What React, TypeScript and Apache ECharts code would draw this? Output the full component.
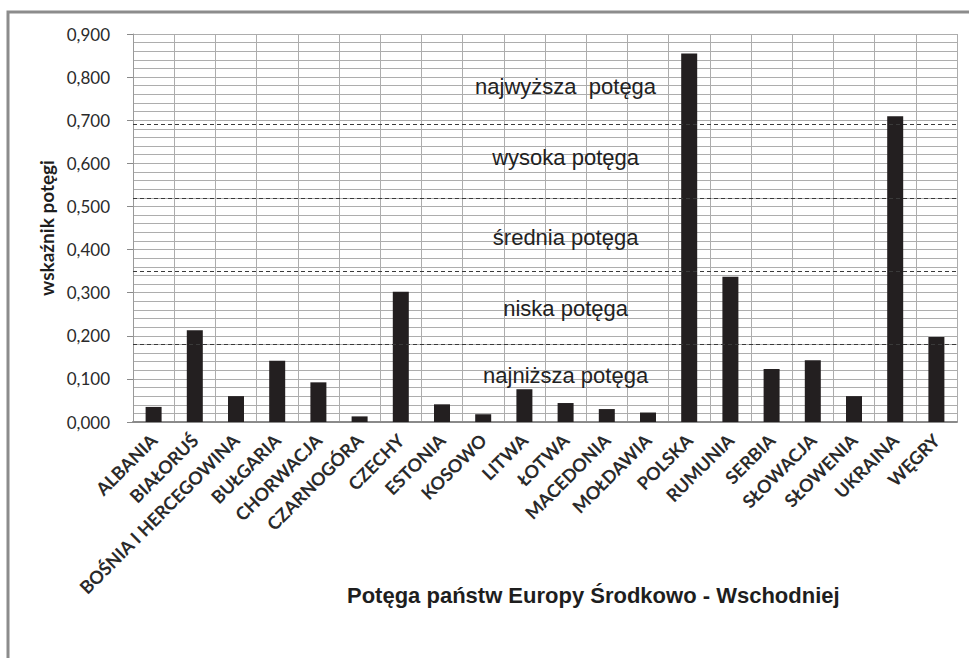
import React, { useEffect, useRef } from "react";
import * as echarts from "echarts";

const categories = [
  "ALBANIA", "BIAŁORUŚ", "BOŚNIA I HERCEGOWINA", "BUŁGARIA", "CHORWACJA",
  "CZARNOGÓRA", "CZECHY", "ESTONIA", "KOSOWO", "LITWA", "ŁOTWA",
  "MACEDONIA", "MOŁDAWIA", "POLSKA", "RUMUNIA", "SERBIA", "SŁOWACJA",
  "SŁOWENIA", "UKRAINA", "WĘGRY",
];
const values = [
  0.035, 0.213, 0.060, 0.142, 0.092, 0.013, 0.302, 0.041, 0.018, 0.076,
  0.044, 0.030, 0.022, 0.855, 0.337, 0.123, 0.143, 0.060, 0.709, 0.197,
];
const thresholds = [0.177, 0.351, 0.524, 0.690];
const zoneNames = ["najniższa potęga", "niska potęga", "średnia potęga", "wysoka potęga", "najwyższa  potęga"];
const zoneLabelValues = [0.109, 0.264, 0.429, 0.613, 0.778];
const zoneLabelCategory = "ŁOTWA";
const yTicks = { min: 0, max: 0.9, interval: 0.1 };
const titleText = "Potęga państw Europy Środkowo - Wschodniej";
const yAxisName = "wskaźnik potęgi";

export default function App() {
  const ref = useRef<HTMLDivElement>(null);
  useEffect(() => {
    document.body.style.margin = "0";
    if (!ref.current) return;
    const chart = echarts.init(ref.current, undefined, { renderer: "svg" });
    chart.setOption({
      animation: false,
      backgroundColor: "#ffffff",
      title: {
        text: titleText,
        left: 342,
        top: 579,
        textStyle: { fontFamily: "Liberation Sans", fontWeight: "bold", fontSize: 22, color: "#1e1e1e" },
      },
      graphic: [
        {
          type: "polyline",
          shape: { points: [[8, 660], [8, 12], [972, 12]] },
          style: { stroke: "#8c8c8c", lineWidth: 3, fill: "none" },
        },
      ],
      grid: { left: 133, right: 12, top: 34, bottom: 236 },
      xAxis: {
        type: "category",
        data: categories,
        axisLine: { lineStyle: { color: "#8a8a8a", width: 2 } },
        axisTick: { show: false },
        splitLine: { show: true, interval: 0, lineStyle: { color: "#adadad", width: 1 } },
        axisLabel: {
          interval: 0,
          rotate: 45,
          margin: 15,
          fontFamily: "Lato",
          fontWeight: "bold",
          fontSize: 18,
          color: "#2a2a2a",
        },
      },
      yAxis: {
        type: "value",
        min: yTicks.min,
        max: yTicks.max,
        interval: yTicks.interval,
        name: yAxisName,
        nameLocation: "middle",
        nameGap: 72,
        nameTextStyle: { fontFamily: "Lato", fontWeight: "bold", fontSize: 19, color: "#1e1e1e" },
        axisLine: { show: true, lineStyle: { color: "#9a9a9a", width: 1 } },
        axisTick: { show: true, length: 6, lineStyle: { color: "#8a8a8a" } },
        axisLabel: {
          margin: 23,
          fontFamily: "Lato",
          fontSize: 17,
          color: "#2a2a2a",
          formatter: (v: number) => v.toFixed(3).replace(".", ","),
        },
        splitLine: { show: true, lineStyle: { color: "#adadad", width: 1 } },
        minorTick: { show: false, splitNumber: 5 },
        minorSplitLine: { show: true, lineStyle: { color: "#adadad", width: 1 } },
      },
      series: [
        {
          type: "bar",
          data: values,
          barWidth: 16,
          itemStyle: { color: "#231f20" },
          markLine: {
            silent: true,
            symbol: ["none", "none"],
            label: { show: false },
            lineStyle: { color: "#3a3a3a", type: [4, 3], width: 1 },
            data: thresholds.map((t) => ({ yAxis: t })),
          },
          markPoint: {
            silent: true,
            symbol: "circle",
            symbolSize: 1,
            itemStyle: { color: "rgba(0,0,0,0)" },
            label: {
              show: true,
              position: "inside",
              fontFamily: "Liberation Sans",
              fontSize: 22,
              color: "#222222",
              formatter: (p: any) => p.name,
            },
            data: zoneNames.map((n, i) => ({ name: n, coord: [zoneLabelCategory, zoneLabelValues[i]] })),
          },
        },
      ],
    });
    return () => chart.dispose();
  }, []);
  return <div ref={ref} style={{ width: 969, height: 658 }} />;
}
